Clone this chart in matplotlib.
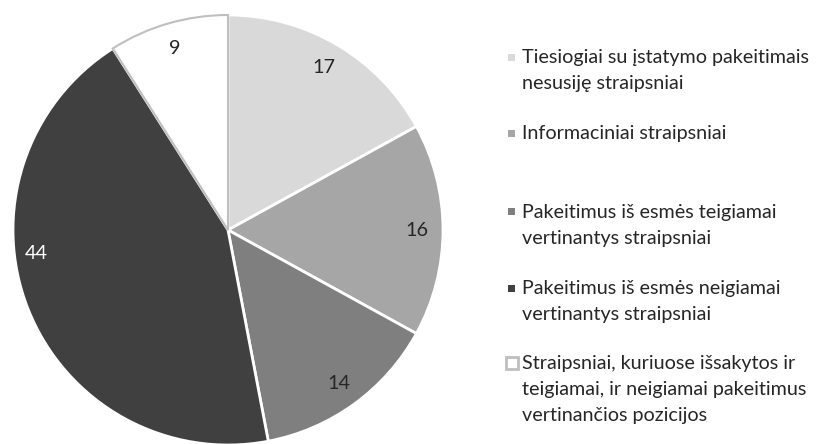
import numpy as np
import matplotlib.pyplot as plt
from matplotlib.patches import Rectangle

plt.rcParams['font.family'] = ['Lato', 'DejaVu Sans']

values = [17, 16, 14, 44, 9]
colors = ['#d9d9d9', '#a6a6a6', '#7f7f7f', '#404040', '#ffffff']
labels = ['Tiesiogiai su įstatymo pakeitimais\nnesusiję straipsniai',
          'Informaciniai straipsniai',
          'Pakeitimus iš esmės teigiamai\nvertinantys straipsniai',
          'Pakeitimus iš esmės neigiamai\nvertinantys straipsniai',
          'Straipsniai, kuriuose išsakytos ir\nteigiamai, ir neigiamai pakeitimus\nvertinančios pozicijos']

W, H = 818, 444
fig = plt.figure(figsize=(W / 100, H / 100), dpi=100)
ax = fig.add_axes([0, 0, 1, 1])

cx, cy, R = 228, H - 230, 215
wedges, _ = ax.pie(values, colors=colors, startangle=90, counterclock=False,
                   center=(cx, cy), radius=R,
                   wedgeprops=dict(edgecolor='white', linewidth=2))
wedges[4].set_edgecolor('#bfbfbf')
wedges[4].set_linewidth(1.5)
wedges[4].set_zorder(3)
ax.set_xlim(0, W)
ax.set_ylim(0, H)
ax.set_aspect('equal')
ax.axis('off')

fs = 14.2
# label angle overrides (Excel best-fit moved the big slice label)
for i, w in enumerate(wedges):
    ang = np.deg2rad((w.theta1 + w.theta2) / 2)
    d = 0.88
    if i == 3:
        ang = np.deg2rad(187)
        d = 0.9
    ax.text(cx + d * R * np.cos(ang), cy + d * R * np.sin(ang), str(values[i]),
            ha='center', va='center', fontsize=fs, zorder=5,
            color='white' if i == 3 else '#262626')

# legend
ys = [57, 133, 212, 288, 363]
for i, (lab, col, y) in enumerate(zip(labels, colors, ys)):
    for k, line in enumerate(lab.split('\n')):
        ax.text(522, H - (y + 6 + 25.8 * k), line, ha='left', va='baseline',
                fontsize=fs, color='#262626')
    if i == 4:
        ax.add_patch(Rectangle((506, H - y - 6), 12, 12, facecolor='white',
                               edgecolor='#bfbfbf', linewidth=2))
    else:
        ax.add_patch(Rectangle((507.5, H - y - 3.5), 7, 7, facecolor=col, edgecolor='none'))

fig.savefig('out.png', dpi=100)
